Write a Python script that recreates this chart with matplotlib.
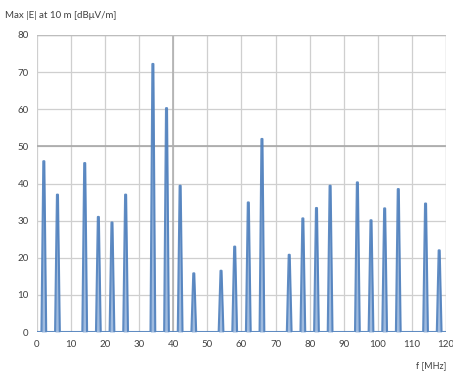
import matplotlib
matplotlib.use("Agg")
import matplotlib.pyplot as plt
import numpy as np

plt.rcParams['font.family'] = ['Lato', 'DejaVu Sans']

freqs = [2, 6, 14, 18, 22, 26, 34, 38, 42, 46, 54, 58, 62, 66,
         74, 78, 82, 86, 94, 98, 102, 106, 114, 118]
levels = [46, 37, 45.5, 31, 29.5, 37, 72.2, 60.3, 39.4, 15.8, 16.5, 23, 34.9, 52,
          20.8, 30.6, 33.4, 39.4, 40.3, 30.1, 33.3, 38.5, 34.6, 22]
xticks = list(range(0, 121, 10))
yticks = list(range(0, 81, 10))

# build spike trace from the data
hw = 0.7
xs = [0.0]
ys = [0.0]
for f, v in zip(freqs, levels):
    xs += [f - hw, f - 0.15, f + 0.15, f + hw]
    ys += [0.0, v, v, 0.0]
xs.append(120.0)
ys.append(0.0)

fig = plt.figure(figsize=(4.53, 3.72), dpi=100)
ax = fig.add_axes([37/453, 1 - 332/372, (446 - 37)/453, (332 - 35)/372])

ax.fill_between(xs, ys, 0, color='#9fbbdf', lw=0, zorder=2)
ax.plot(xs, ys, color='#4f80bd', lw=1.5, zorder=3, alpha=0.9)

ax.set_xlim(0, 120)
ax.set_ylim(0, 80)
ax.set_xticks(xticks)
ax.set_yticks(yticks)
ax.tick_params(length=0, labelsize=7, colors='#404040', pad=6)
ax.grid(True, color='#cfcfcf', lw=0.9, zorder=0)
ax.axhline(50, color='#a8a8a8', lw=1.2, zorder=1)
ax.axvline(40, color='#b0b0b0', lw=1.2, zorder=1)
ax.set_axisbelow(True)
for s in ax.spines.values():
    s.set_visible(False)
ax.axhline(80, color='#bdbdbd', lw=1.0, zorder=1)
ax.axvline(120, color='#cfcfcf', lw=0.9, zorder=1)

fig.text(5/453, 1 - 15/372, 'Max |E| at 10 m [dBμV/m]', fontsize=7, color='#404040',
         va='center', ha='left')
fig.text(446/453, 1 - 366/372, 'f [MHz]', fontsize=6.5, color='#404040',
         va='center', ha='right')

fig.savefig('out.png', dpi=100)
